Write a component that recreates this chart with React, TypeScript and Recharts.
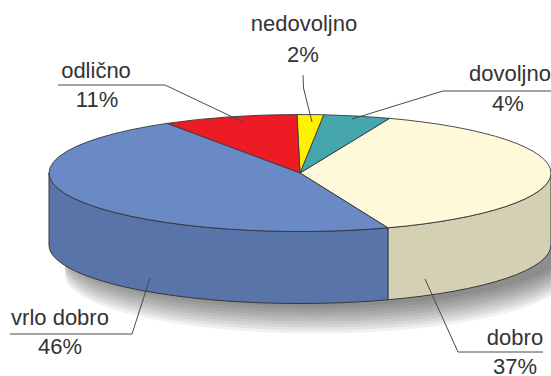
import React from 'react';
import { PieChart, Pie } from 'recharts';

// slice order runs counter-clockwise from the cream/blue seam at the front
const categories = ['dobro', 'dovoljno', 'nedovoljno', 'odlično', 'vrlo dobro'];
const percentLabels = ['37%', '4%', '2%', '11%', '46%'];
// share of the ellipse each slice really occupies in the drawing (differs a bit from the printed labels)
const sliceShares = [38.5, 4.3, 1.7, 8.7, 46.8];

const topColors = ['#fefad9', '#46a6ae', '#fff200', '#ed1c24', '#6a8ac6'];
const wallColors = ['#d3d0b3', '#46a6ae', '#fff200', '#ed1c24', '#5874a8'];

const CX = 300;
const CY = 173;
const RX = 251;
const RY = 58.5;
const DEPTH = 72;
const START_ANGLE = -69.5;
const EDGE = '#38383c';
const TEXT = '#333333';
const FONT = '"Liberation Sans", Arial, sans-serif';

// soft shadow: stacked translucent copies of the body, furthest first
const shadowOffsets = [30, 27, 24, 21, 18, 15, 12, 9, 6, 3];

// leader line and text placement, same order as categories
const labelLayout = [
  { line: '543,352 458,352 425,279', nameX: 515, nameY: 345, pctX: 515, pctY: 374 },
  { line: '551,91 443,91 352,119', nameX: 510, nameY: 81, pctX: 508, pctY: 111 },
  { line: '303,75 303.5,88 312,122', nameX: 304, nameY: 31, pctX: 303, pctY: 62 },
  { line: '58,85 165,85 243,122', nameX: 96, nameY: 78, pctX: 97, pctY: 107 },
  { line: '10,334 132,334 150,278', nameX: 60, nameY: 325, pctX: 60, pctY: 354 },
];

const data = categories.map((name, i) => ({ name, share: sliceShares[i], index: i }));
const shadowData = [{ name: 'shadow', share: 100 }];

const point = (deg: number, dy = 0) => {
  const a = (deg * Math.PI) / 180;
  return `${CX + RX * Math.cos(a)} ${CY - RY * Math.sin(a) + dy}`;
};

const arcTo = (to: number, span: number, sweep: number, dy = 0) =>
  `A ${RX} ${RY} 0 ${Math.abs(span) > 180 ? 1 : 0} ${sweep} ${point(to, dy)}`;

const wedgePath = (a0: number, a1: number, dy = 0) =>
  `M ${CX} ${CY + dy} L ${point(a0, dy)} ${arcTo(a1, a1 - a0, 0, dy)} Z`;

const wallPath = (a0: number, a1: number) =>
  `M ${point(a0)} ${arcTo(a1, a1 - a0, 0)} L ${point(a1, DEPTH)} ${arcTo(a0, a0 - a1, 1, DEPTH)} Z`;

// the part of a slice that faces the viewer (lower half of the ellipse)
const frontRange = (start: number, end: number): [number, number] | null => {
  const a0 = Math.min(start, end);
  const a1 = Math.max(start, end);
  for (const [lo, hi] of [[-180, 0], [180, 360]]) {
    const from = Math.max(a0, lo);
    const to = Math.min(a1, hi);
    if (to > from) return [from, to];
  }
  return null;
};

const TopSlice = (props: any) => (
  <path
    d={wedgePath(Math.min(props.startAngle, props.endAngle), Math.max(props.startAngle, props.endAngle))}
    fill={topColors[props.index]}
    stroke={EDGE}
    strokeWidth={0.9}
    strokeLinejoin="round"
  />
);

const WallSlice = (props: any) => {
  const range = frontRange(props.startAngle, props.endAngle);
  if (!range) return <g />;
  return (
    <path
      d={wallPath(range[0], range[1])}
      fill={wallColors[props.index]}
      stroke={EDGE}
      strokeWidth={1}
      strokeLinejoin="round"
    />
  );
};

// one outline of the whole body, flattened on top so nothing peeks out above the disc
const ShadowBody = () => {
  const d =
    `M ${point(180)} A ${RX} 30 0 0 1 ${point(0)} ` +
    `L ${point(0, DEPTH)} A ${RX} ${RY} 0 0 1 ${point(180, DEPTH)} Z`;
  return (
    <g>
      {shadowOffsets.map((dy) => (
        <path key={dy} d={d} transform={`translate(16 ${dy})`} fill="#000" fillOpacity={0.055} />
      ))}
    </g>
  );
};

const SliceLabel = (props: any) => {
  const i = props.index;
  const l = labelLayout[i];
  const textStyle = { fontFamily: FONT, fontSize: 22, fill: TEXT };
  return (
    <g>
      <polyline points={l.line} fill="none" stroke="#4a4a4a" strokeWidth={1} />
      <text x={l.nameX} y={l.nameY} textAnchor="middle" style={textStyle}>
        {categories[i]}
      </text>
      <text x={l.pctX} y={l.pctY} textAnchor="middle" style={textStyle}>
        {percentLabels[i]}
      </text>
    </g>
  );
};

export default function App() {
  const pieProps = {
    data,
    dataKey: 'share',
    nameKey: 'name',
    cx: CX,
    cy: CY,
    innerRadius: 0,
    outerRadius: RX,
    startAngle: START_ANGLE,
    endAngle: START_ANGLE + 360,
    paddingAngle: 0,
    isAnimationActive: false,
    labelLine: false,
  };
  return (
    <div style={{ position: 'absolute', left: 0, top: 0, width: 551, height: 376, background: '#fff' }}>
      <PieChart width={551} height={376} margin={{ top: 0, right: 0, bottom: 0, left: 0 }}>
        <Pie {...pieProps} data={shadowData} shape={ShadowBody} />
        <Pie {...pieProps} shape={WallSlice} />
        <Pie {...pieProps} shape={TopSlice} label={SliceLabel} />
      </PieChart>
    </div>
  );
}
